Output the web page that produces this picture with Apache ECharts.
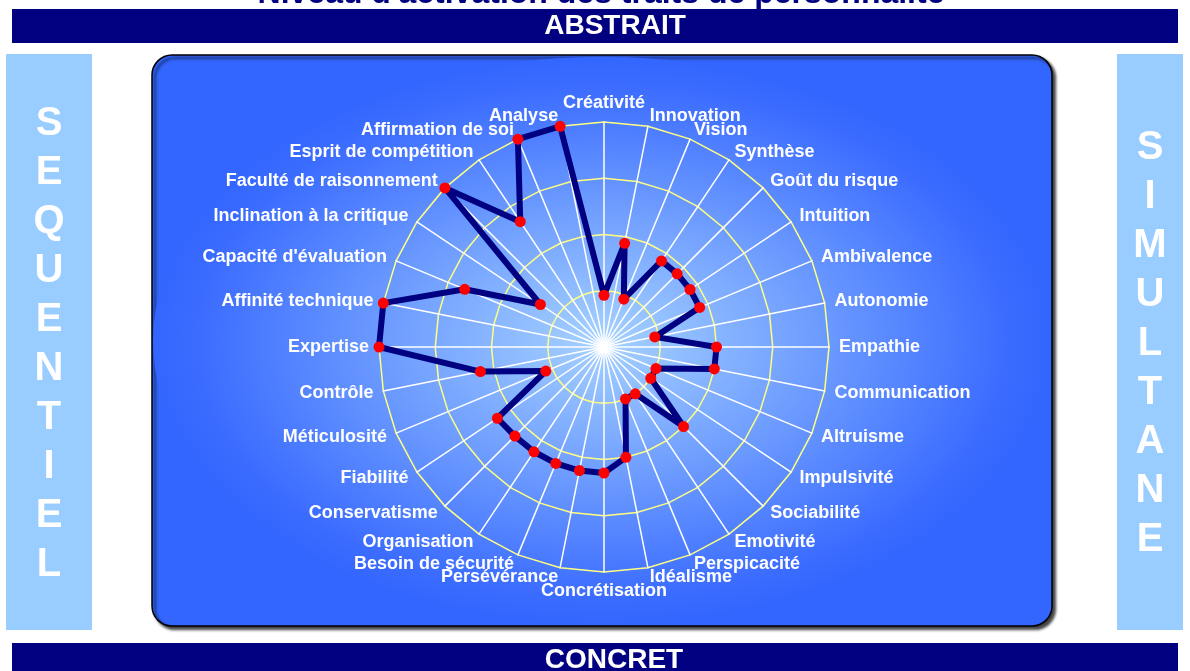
<!DOCTYPE html>
<html>
<head>
<meta charset="utf-8">
<script src="https://cdn.jsdelivr.net/npm/echarts@6/dist/echarts.min.js"></script>
<style>
html,body{margin:0;padding:0;background:#fff;}
#c{width:1190px;height:671px;}
</style>
</head>
<body>
<div id="c"></div>
<script>
// Traits listed clockwise starting from the top (Créativité)
const traits = ["Créativité","Innovation","Vision","Synthèse","Goût du risque","Intuition","Ambivalence","Autonomie","Empathie","Communication","Altruisme","Impulsivité","Sociabilité","Emotivité","Perspicacité","Idéalisme","Concrétisation","Persévérance","Besoin de sécurité","Organisation","Conservatisme","Fiabilité","Méticulosité","Contrôle","Expertise","Affinité technique","Capacité d'évaluation","Inclination à la critique","Faculté de raisonnement","Esprit de compétition","Affirmation de soi","Analyse"];
const activation = [23,47,23,46,46,46,46,23,50,50,25,25,50,25,25,50,56,56,56,56,56,57,28,56,100,100,67,34,100,67,100,100];
const scaleMax = 100;
const titleText = "Niveau d'activation des traits de personnalité";
const topLabel = "ABSTRAIT";
const bottomLabel = "CONCRET";
const leftLabel = "SEQUENTIEL";
const rightLabel = "SIMULTANE";

// ECharts radar runs counter-clockwise: keep first item at top, reverse the rest
const order = [0].concat(traits.map((_, i) => i).slice(1).reverse());
const indicators = order.map(i => ({ name: traits[i], min: 0, max: scaleMax }));
const values = order.map(i => activation[i]);

const FONT = "'Liberation Sans', Arial, sans-serif";
const chart = echarts.init(document.getElementById('c'), null, { renderer: 'canvas' });

const option = {
  animation: false,
  backgroundColor: '#ffffff',
  graphic: [
    { type: 'text', x: 601, y: -6, style: { text: titleText, fontSize: 32, fontWeight: 'bold', fontFamily: FONT, fill: '#000080', align: 'center', verticalAlign: 'middle' } },
    { type: 'rect', shape: { x: 12, y: 9, width: 1166, height: 34 }, style: { fill: '#000080' } },
    { type: 'text', x: 615, y: 26, style: { text: topLabel, fontSize: 28, fontWeight: 'bold', fontFamily: FONT, fill: '#ffffff', align: 'center', verticalAlign: 'middle' } },
    { type: 'rect', shape: { x: 12, y: 643, width: 1166, height: 34 }, style: { fill: '#000080' } },
    { type: 'text', x: 614, y: 660, style: { text: bottomLabel, fontSize: 28, fontWeight: 'bold', fontFamily: FONT, fill: '#ffffff', align: 'center', verticalAlign: 'middle' } },
    { type: 'rect', shape: { x: 6, y: 54, width: 86, height: 576 }, style: { fill: '#99ccff' } },
    { type: 'text', x: 49, y: 344, style: { text: leftLabel.split('').join('\n'), fontSize: 40, lineHeight: 49, fontWeight: 'bold', fontFamily: FONT, fill: '#ffffff', align: 'center', verticalAlign: 'middle' } },
    { type: 'rect', shape: { x: 1117, y: 54, width: 66, height: 576 }, style: { fill: '#99ccff' } },
    { type: 'text', x: 1150, y: 344, style: { text: rightLabel.split('').join('\n'), fontSize: 40, lineHeight: 49, fontWeight: 'bold', fontFamily: FONT, fill: '#ffffff', align: 'center', verticalAlign: 'middle' } },
    { type: 'rect', z: -2, shape: { x: 152, y: 55, width: 900, height: 571, r: 20 },
      style: { fill: '#3366ff', stroke: '#000000', lineWidth: 1.5, shadowBlur: 3, shadowOffsetX: 3, shadowOffsetY: 3, shadowColor: 'rgba(0,0,0,0.75)' } },
    { type: 'circle', z: -1, x: 602, y: 341, scaleX: 449 / 284, scaleY: 1, shape: { cx: 0, cy: 0, r: 284 },
      style: { fill: { type: 'radial', x: 0.5, y: 0.5, r: 0.5, colorStops: [ { offset: 0, color: '#a6d2ff' }, { offset: 0.9, color: '#3b6cff' }, { offset: 1, color: '#3366ff' } ] } } }
  ],
  radar: {
    center: [604, 347],
    radius: 225,
    startAngle: 90,
    splitNumber: 4,
    shape: 'polygon',
    indicator: indicators,
    nameGap: 10,
    axisName: { color: '#ffffff', fontSize: 18, fontWeight: 'bold', fontFamily: FONT },
    splitLine: { lineStyle: { color: '#ffff80', width: 1.5 } },
    splitArea: { show: false },
    axisLine: { lineStyle: { color: '#ffffff', width: 1.5 } },
    axisTick: { show: false },
    axisLabel: { show: false }
  },
  series: [{
    type: 'radar',
    symbol: 'circle',
    symbolSize: 11,
    lineStyle: { color: '#000080', width: 6 },
    itemStyle: { color: '#ff0000' },
    data: [{ value: values, name: 'Activation' }]
  }]
};
chart.setOption(option);
</script>
</body>
</html>
